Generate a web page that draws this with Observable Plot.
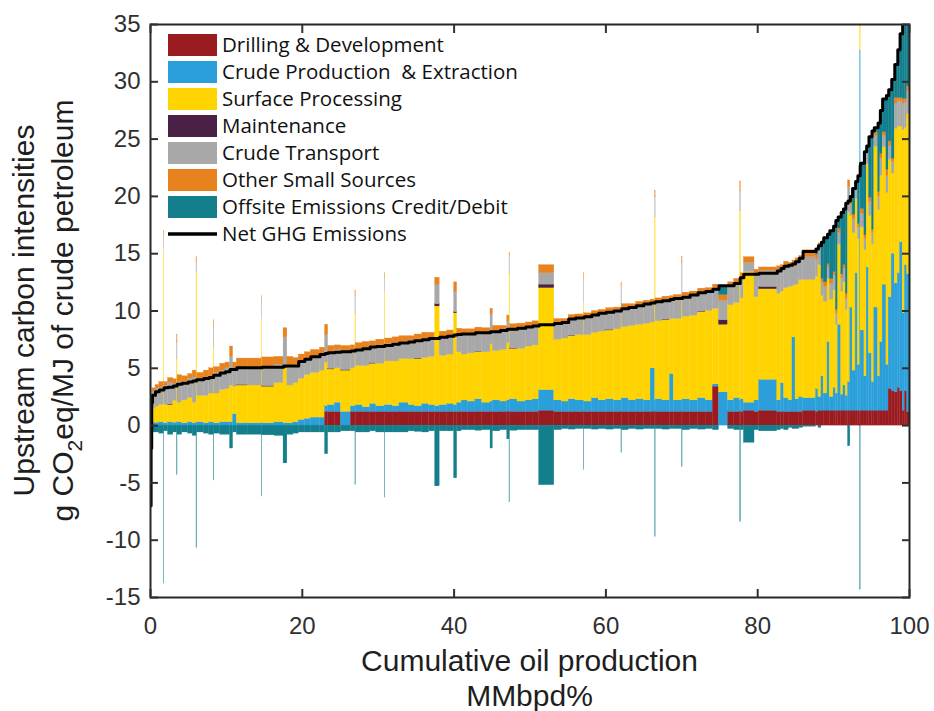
<!DOCTYPE html>
<html>
<head>
<meta charset="utf-8">
<script src="https://cdn.jsdelivr.net/npm/d3@7"></script>
<script src="https://cdn.jsdelivr.net/npm/@observablehq/plot@0.6"></script>
<style>
  html, body { margin: 0; padding: 0; background: #fff; }
</style>
</head>
<body>
<div id="chart"></div>
<script>
// Oil fields ordered by net upstream GHG intensity.
// share: each field's share of global production (% of MMbpd), giving the bar width.
// Component arrays: g CO2eq/MJ of crude petroleum for each field, same order.
const share = [
  0.08,0.08,0.1,
  0.4,0.5,0.6,0.05,0.5,0.7,0.5,0.05,0.6,0.8, 0.6,0.5,0.06,0.9,0.7,0.6,0.06,0.8,0.7,0.6, 0.4,0.5,1.5,1.8,0.05,1.6,1.2,0.5,0.8,0.7, 0.8,0.8,1.2,0.67,
  0.4,0.9,0.8,1.3,0.6,0.05,0.9,1.0,0.8,1.1, 0.05,1.0,0.9,1.2,0.8,1.0,0.9,0.8,0.6,1.0, 0.9,0.4,0.6,
  0.8,1.0,0.9,1.1,0.3,1.0,0.9,0.3,0.05,1.0, 1.1,0.9,0.85, 2.0,
  1.0,0.9,0.9,1.1,0.05,1.0,0.9,1.0,1.0,1.0, 0.05,0.9,1.0,1.0,0.9,0.6,0.05,0.9,1.0,0.5, 1.1,0.05,1.0,1.05,1.0,0.95,0.8,
  1.2,0.8,0.8,0.08,0.4,1.4,0.6,2.4,0.5,0.4, 0.6,0.5,0.4,0.5,0.5,1.7,0.32,
  0.4,0.3,0.5,0.3,0.5,0.3,0.3,0.4,0.3,0.3, 0.3,0.3,0.3,0.4,0.3,0.3,0.06,0.5,0.3,0.3, 0.4,0.3,0.5,0.3,0.3,0.5,0.3,0.4,0.4,0.4, 0.3,0.34,0.3,0.3,0.3
];

const drilling = [
  0,0,0,
  0,0,0,0,0,0,0,0,0,0, 0,0,0,0,0,0,0,0,0,0, 0,0,0,0,0,0,0,0,0,0, 0,0,0,0,
  1.2,1.2,1.2,0,1.2,1.2,1.2,1.2,1.2,1.2, 1.2,1.2,1.2,1.2,1.2,1.2,1.2,1.2,1.2,1.2, 1.2,1.2,1.2,
  1.2,1.2,1.2,1.2,1.2,1.2,1.2,1.2,1.2,1.2, 1.2,1.2,1.2, 1.3,
  1.2,1.2,1.2,1.2,1.2,1.2,1.2,1.2,1.2,1.2, 1.2,1.2,1.2,1.2,1.2,1.2,1.2,1.2,1.2,1.2, 1.2,1.2,1.2,1.2,1.2,1.2,3.4,
  0,1.2,1.2,1.2,1.2,1.3,1.2,1.3,1.2,1.2, 1.2,1.2,1.2,1.2,1.2,1.3,1.2,
  1.3,1.3,1.3,1.3,1.3,1.3,1.3,1.3,1.3,1.3, 1.3,1.3,1.3,1.3,1.3,1.3,1.2,1.3,1.3,1.3, 1.3,1.3,1.3,1.3,1.3,1.3,1.3,3.2,3.0,2.9, 3.3,3.0,1.3,3.0,1.2
];

const production = [
  0.2,0.2,0.2,
  0.25,0.25,0.3,0.2,0.2,0.3,0.25,0.3,0.3,0.2, 0.3,0.2,0.3,0.3,0.2,0.3,0.3,0.2,0.3,0.3, 0.3,1.0,0.2,0.2,0.3,0.2,0.3,0.2,0.2,0.3, 0.5,0.6,0.7,0.7,
  0.5,0.6,0.8,1.2,0.5,0.5,0.6,0.4,0.7,0.5, 0.5,0.6,0.5,0.8,0.6,0.5,0.7,0.6,0.5,0.6, 0.7,0.6,0.8,
  1.0,0.9,1.1,0.8,0.9,1.0,0.9,1.0,1.0,1.1, 0.9,1.0,1.1, 1.8,
  1.0,0.9,1.1,1.0,1.0,0.9,1.2,1.0,1.1,1.0, 1.0,1.2,1.0,1.1,1.0,3.8,1.0,1.1,1.0,3.3, 1.0,1.0,1.1,1.0,1.2,1.0,0.2,
  2.9,1.0,1.2,1.0,1.1,0.7,1.0,2.7,1.0,2.5, 1.2,1.0,6.5,1.1,1.3,1.1,2.0,
  1.2,3.0,1.5,6.0,1.2,2.0,1.5,7.5,1.4,2.2, 1.3,2.5,9.0,3.5,12.0,4.0,31.5,7.0,3.0,12.5, 5.0,2.5,9.0,3.0,6.0,11.0,4.0,8.0,12.0,9.5, 10.0,13.0,8.5,11.0,12.0
];

const processing = [
  2.0,2.2,1.8,
  1.2,1.4,1.5,15.2,1.6,1.5,1.9,5.5,1.7,2.0, 2.1,1.8,13.1,2.3,2.4,2.5,6.5,2.6,2.8,2.9, 3.2,2.4,3.3,3.3,9.0,3.2,3.4,4.8,3.3,3.4, 3.6,3.8,3.9,4.1,
  3.8,3.1,3.0,3.6,3.3,8.0,3.4,3.6,3.5,3.7, 10.0,3.8,3.9,3.8,4.0,4.1,4.0,4.2,8.7,4.3, 4.3,8.0,4.4,
  4.0,4.2,4.1,4.4,5.0,4.3,4.5,5.0,11.0,4.4, 4.6,4.7,4.7, 8.9,
  5.3,5.5,5.5,5.7,8.5,5.8,5.7,6.0,6.0,6.2, 7.5,6.2,6.5,6.5,6.7,4.0,16.0,6.8,7.0,4.8, 7.1,9.0,7.2,7.4,7.5,7.8,6.6,
  5.9,8.3,8.3,16.5,8.8,11.4,9.0,7.9,9.3,8.0, 9.6,9.9,4.5,10.0,10.2,10.3,9.8,
  11.5,7.0,8.0,5.5,8.5,8.5,6.0,7.0,9.0,9.0, 7.5,14.8,8.0,12.0,6.5,11.0,2.2,9.0,11.0,9.0, 12.0,12.0,14.0,14.5,14.5,12.0,15.0,12.0,7.0,13.5, 12.8,10.1,16.0,12.0,14.0
];

const maintenance = [
  0,0,0,
  0,0,0,0,0,0.05,0,0,0,0, 0,0,0,0,0,0,0,0,0,0, 0,0,0.05,0,0,0.05,0,0.1,0,0, 0,0,0,0,
  0,0.05,0,0.05,0,0,0,0,0.05,0, 0,0,0,0,0,0.05,0,0,0.2,0, 0,0.1,0,
  0,0,0.05,0,0,0,0,0,0,0.05, 0,0,0, 0.3,
  0,0,0.05,0,0,0,0,0,0.05,0, 0,0,0,0,0,0,0,0,0.05,0, 0,0,0,0,0.05,0,0,
  0.4,0,0,0,0,0,0,0.2,0,0, 0,0,0,0,0,0,0,
  0,0,0,0,0,0,0,0,0,0, 0,0,0,0,0,0,0,0,0,0, 0,0,0,0,0,0,0,0,0,0, 0,0,0,0,0
];

const transport = [
  0.3,0.5,0.6,
  1.5,1.6,1.5,1.2,1.7,1.9,1.5,1.5,1.8,1.6, 1.7,2.2,0.8,1.5,1.6,1.5,1.8,1.8,1.7,1.8, 2.5,1.6,1.5,1.6,1.5,1.7,1.6,2.6,1.6,1.6, 1.5,1.4,1.4,1.4,
  2.4,1.5,1.6,1.6,1.5,1.5,1.5,1.6,1.5,1.6, 1.2,1.5,1.6,1.5,1.6,1.6,1.7,1.6,1.7,1.6, 1.6,1.8,1.5,
  1.7,1.6,1.7,1.6,2.6,1.7,1.6,1.9,1.5,1.7, 1.7,1.6,1.7, 1.0,
  1.5,1.4,1.5,1.5,2.0,1.6,1.6,1.6,1.6,1.6, 2.4,1.7,1.6,1.7,1.7,1.7,1.8,1.7,1.7,1.7, 1.8,3.0,1.8,1.8,1.7,1.7,1.8,
  1.7,1.6,1.7,1.8,1.8,0.8,2.0,1.4,2.0,1.9, 1.8,1.7,1.8,1.8,1.7,2.0,1.5,
  1.5,1.2,1.3,1.0,1.4,1.3,1.0,1.0,1.2,1.2, 1.0,2.2,1.0,1.2,0.8,1.0,1.5,1.2,1.0,1.0, 1.2,1.0,1.0,1.2,1.5,1.0,1.5,1.2,1.0,2.2, 2.2,2.2,2.3,2.2,2.0
];

const other = [
  0.1,0.2,0.2,
  0.3,0.3,0.5,0.4,0.3,0.4,0.4,0.6,0.6,0.5, 0.4,0.6,0.5,0.5,0.6,0.7,0.6,0.5,0.6,0.5, 0.9,0.5,0.8,0.75,0.5,0.8,0.7,0.8,0.9,0.6, 0.6,0.6,0.6,0.6,
  0.9,0.5,0.4,0.5,0.5,0.6,0.5,0.5,0.4,0.5, 0.4,0.5,0.5,0.5,0.4,0.5,0.5,0.5,0.6,0.5, 0.5,0.8,0.55,
  0.5,0.5,0.4,0.5,0.5,0.5,0.5,0.5,0.4,0.4, 0.5,0.5,0.4, 0.7,
  0.3,0.3,0.3,0.3,0.6,0.3,0.3,0.3,0.3,0.3, 0.4,0.3,0.3,0.3,0.3,0.3,0.5,0.3,0.3,0.3, 0.3,0.5,0.3,0.3,0.3,0.3,0.3,
  0.5,0.4,0.4,0.8,0.4,0.5,0.4,0.3,0.4,0.4, 0.5,0.4,0.4,0.5,0.4,0.6,0.4,
  0.4,0.3,0.4,0.3,0.4,0.3,0.3,0.4,0.3,0.3, 0.4,0.6,0.3,0.4,0.3,0.3,0.6,0.4,0.3,0.3, 0.4,0.3,0.3,0.4,0.4,0.3,0.5,0.4,0.3,0.5, 0.3,0.3,0.4,0.3,0.4
];

const offsite = [
  -9.6,-5.1,-0.8,
  -0.6,-0.6,-0.7,-13.8,-0.5,-0.8,-0.6,-4.3,-0.8,-0.6, -0.7,-0.9,-10.7,-0.6,-0.7,-0.8,-4.8,-0.7,-0.8,-0.8, -2.0,-0.6,-0.8,-0.8,-6.2,-0.85,-0.9,-3.3,-0.8,-0.7, -0.6,-0.6,-0.6,-0.6,
  -2.5,-0.6,-0.6,-0.5,-0.5,-5.2,-0.6,-0.6,-0.5,-0.6, -6.3,-0.6,-0.6,-0.6,-0.5,-0.55,-0.6,-0.5,-5.3,-0.5, -0.5,-4.6,-0.5,
  -0.4,-0.4,-0.45,-0.4,-2.0,-0.5,-0.4,-1.2,-6.7,-0.45, -0.4,-0.4,-0.4, -5.2,
  -0.4,-0.3,-0.35,-0.3,-3.9,-0.3,-0.35,-0.3,-0.35,-0.3, -2.4,-0.4,-0.3,-0.35,-0.3,-0.3,-9.7,-0.3,-0.35,-0.3, -0.3,-3.6,-0.4,-0.3,-0.35,-0.3,-0.4,
  0.8,-0.3,-0.4,-8.4,-0.4,-1.5,-0.4,-0.5,-0.4,-0.3, -0.4,-0.2,-0.3,-0.3,-0.2,-0.1,0.5,
  -0.2,3.2,3.9,2.6,4.2,4.0,7.8,1.0,5.4,4.9, 7.9,-1.8,0.4,2.3,0.4,4.2,-14.3,4.0,7.3,0.3, 5.3,8.6,0.4,6.0,3.8,2.9,6.5,4.5,6.9,2.9, 4.2,5.6,7.0,7.5,7.4
];

const componentNames = [
  "Drilling & Development",
  "Crude Production\u00a0 & Extraction",
  "Surface Processing",
  "Maintenance",
  "Crude Transport",
  "Other Small Sources",
  "Offsite Emissions Credit/Debit"
];
const componentColors = ["#9a1b1f", "#2a9fd9", "#fed300", "#4b2046", "#a8a8a8", "#e8821f", "#137f8d"];
const netLabel = "Net GHG Emissions";
const xTicks = [0, 20, 40, 60, 80, 100];
const yTicks = [-15, -10, -5, 0, 5, 10, 15, 20, 25, 30, 35];
const xTitle = ["Cumulative oil production", "MMbpd%"];
const yTitle = ["Upstream carbon intensities", "g CO", "2", "eq/MJ of crude petroleum"];

const series = [drilling, production, processing, maintenance, transport, other, offsite];
series.forEach((s, k) => {
  if (s.length !== share.length) throw new Error(`${componentNames[k]}: ${s.length} values for ${share.length} fields`);
});

// Stack each field: positive parts upward from zero, credits downward.
const segments = [];
const netSteps = [];
let start = 0;
share.forEach((w, i) => {
  const x1 = start, x2 = start + w;
  start = x2;
  let up = 0, down = 0;
  series.forEach((s, k) => {
    const v = s[i];
    if (v > 0) { segments.push({x1, x2, y1: up, y2: up + v, part: componentNames[k]}); up += v; }
    else if (v < 0) { segments.push({x1, x2, y1: down + v, y2: down, part: componentNames[k]}); down += v; }
  });
  netSteps.push({x: x1, net: up + down});
});
netSteps.push({x: start, net: netSteps[netSteps.length - 1].net});

const blank = () => "";

const svg = Plot.plot({
  width: 934,
  height: 711,
  marginLeft: 150,
  marginRight: 25,
  marginTop: 24,
  marginBottom: 114,
  style: {
    fontFamily: "'Liberation Sans', Arial, Helvetica, sans-serif",
    fontSize: "24px",
    color: "#303030",
    background: "#fff"
  },
  x: {domain: [0, 100]},
  y: {domain: [-15, 35]},
  color: {domain: componentNames, range: componentColors},
  marks: [
    Plot.rect(segments, {x1: "x1", x2: "x2", y1: "y1", y2: "y2", fill: "part", stroke: "part", strokeWidth: 0.3, clip: true}),
    Plot.line(netSteps, {x: "x", y: "net", curve: "step-after", stroke: "#000", strokeWidth: 3, clip: true}),
    Plot.frame({stroke: "#262626", strokeWidth: 2}),
    Plot.axisX({anchor: "bottom", ticks: xTicks, tickSize: 0, tickPadding: 19, tickFormat: d => String(d), label: null}),
    Plot.axisX({anchor: "bottom", ticks: xTicks, tickSize: 8, dy: -8, strokeWidth: 2, tickFormat: blank, label: null}),
    Plot.axisX({anchor: "top", ticks: xTicks, tickSize: 8, dy: 8, strokeWidth: 2, tickFormat: blank, label: null}),
    Plot.axisY({anchor: "left", ticks: yTicks, tickSize: 0, tickPadding: 10, tickFormat: d => String(d), label: null}),
    Plot.axisY({anchor: "left", ticks: yTicks, tickSize: 8, dx: 8, strokeWidth: 2, tickFormat: blank, label: null}),
    Plot.axisY({anchor: "right", ticks: yTicks, tickSize: 8, dx: -8, strokeWidth: 2, tickFormat: blank, label: null})
  ]
});

const root = d3.select(svg);

// Axis titles
const titleFont = "'Liberation Sans', Arial, Helvetica, sans-serif";
root.append("text")
  .attr("x", 529.5).attr("y", 671)
  .attr("text-anchor", "middle").attr("font-family", titleFont).attr("font-size", 30).attr("fill", "#1e1e1e")
  .text(xTitle[0]);
root.append("text")
  .attr("x", 529.5).attr("y", 706)
  .attr("text-anchor", "middle").attr("font-family", titleFont).attr("font-size", 30).attr("fill", "#1e1e1e")
  .text(xTitle[1]);
root.append("text")
  .attr("transform", "translate(34,310.5) rotate(-90)")
  .attr("text-anchor", "middle").attr("font-family", titleFont).attr("font-size", 30).attr("fill", "#1e1e1e")
  .text(yTitle[0]);
const y2 = root.append("text")
  .attr("transform", "translate(73,310.5) rotate(-90)")
  .attr("text-anchor", "middle").attr("font-family", titleFont).attr("font-size", 30).attr("fill", "#1e1e1e");
y2.append("tspan").text(yTitle[1]);
y2.append("tspan").attr("font-size", 21).attr("dy", 9).text(yTitle[2]);
y2.append("tspan").attr("dy", -9).text(yTitle[3]);

// Legend in the upper left of the frame
const legend = root.append("g")
  .attr("font-family", "'Open Sans', 'Noto Sans', sans-serif")
  .attr("font-size", 20.5)
  .attr("fill", "#111")
  .attr("text-anchor", "start");
componentNames.forEach((name, k) => {
  const top = 34 + 27 * k;
  legend.append("rect").attr("x", 168).attr("y", top).attr("width", 49).attr("height", 22).attr("fill", componentColors[k]);
  legend.append("text").attr("x", 222).attr("y", top + 11).attr("dy", "0.36em").attr("text-anchor", "start").text(name);
});
legend.append("line").attr("x1", 168).attr("x2", 217).attr("y1", 234).attr("y2", 234).attr("stroke", "#000").attr("stroke-width", 3.5);
legend.append("text").attr("x", 222).attr("y", 234).attr("dy", "0.36em").attr("text-anchor", "start").text(netLabel);

document.getElementById("chart").appendChild(svg);
</script>
</body>
</html>
